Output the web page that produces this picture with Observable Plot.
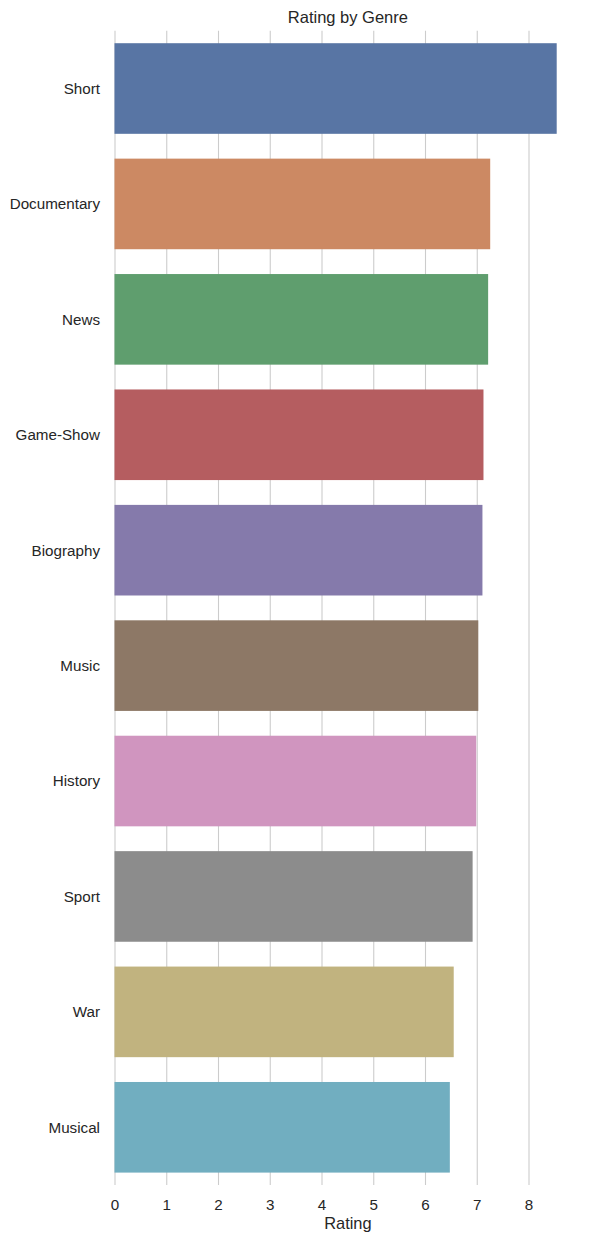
<!DOCTYPE html>
<html>
<head>
<meta charset="utf-8">
<script src="https://cdn.jsdelivr.net/npm/d3@7"></script>
<script src="https://cdn.jsdelivr.net/npm/@observablehq/plot@0.6"></script>
<style>
  html, body { margin: 0; padding: 0; background: #ffffff; }
  #chart svg { display: block; }
</style>
</head>
<body>
<div id="chart"></div>
<script>
const genres = ["Short", "Documentary", "News", "Game-Show", "Biography", "Music", "History", "Sport", "War", "Musical"];
const ratings = [8.545, 7.26, 7.22, 7.13, 7.11, 7.03, 6.99, 6.92, 6.555, 6.48];
const colors = ["#5875a4", "#cc8963", "#5f9e6e", "#b55d60", "#857aab", "#8d7866", "#d095bf", "#8c8c8c", "#c1b37f", "#71aec0"];
const xTicks = [0, 1, 2, 3, 4, 5, 6, 7, 8];

const data = genres.map((g, i) => ({genre: g, rating: ratings[i]}));

const font = "Arial, 'Liberation Sans', sans-serif";

const chart = Plot.plot({
  width: 589,
  height: 1243,
  marginLeft: 114.5,
  marginRight: 8.75,
  marginTop: 30.8,
  marginBottom: 58,
  style: {fontFamily: font, color: "#262626", background: "#ffffff"},
  x: {domain: [0, 9]},
  y: {domain: genres, paddingInner: 0.215, paddingOuter: 0.1075, round: false},
  color: {domain: genres, range: colors},
  marks: [
    Plot.gridX(xTicks, {stroke: "#cccccc", strokeOpacity: 1, strokeWidth: 1.1}),
    Plot.barX(data, {x: "rating", y: "genre", fill: "genre"}),
    Plot.axisX(xTicks, {tickSize: 0, tickPadding: 14, fontSize: 15.2, label: null, fill: "#262626"}),
    Plot.axisY({tickSize: 0, tickPadding: 15, fontSize: 15.2, label: null, fill: "#262626"}),
    Plot.text(["Rating"], {frameAnchor: "bottom", dy: 37.9, lineAnchor: "middle", fontSize: 16.4, fill: "#262626"}),
    Plot.text(["Rating by Genre"], {frameAnchor: "top", dy: -13.4, lineAnchor: "middle", fontSize: 16.5, fill: "#262626"})
  ]
});

document.getElementById("chart").appendChild(chart);
</script>
</body>
</html>
